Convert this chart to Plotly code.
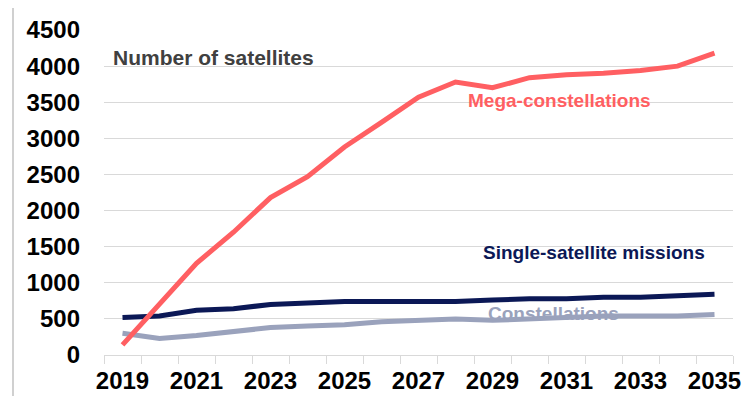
import plotly.graph_objects as go

years = list(range(2019, 2036))
mega = [140, 700, 1270, 1700, 2180, 2470, 2880, 3220, 3570, 3780, 3700, 3840, 3880, 3900, 3940, 4000, 4180]
single = [520, 540, 620, 640, 700, 720, 740, 740, 740, 740, 760, 780, 780, 800, 800, 820, 840]
constellations = [300, 230, 270, 330, 380, 400, 420, 460, 480, 500, 480, 500, 520, 540, 540, 540, 560]

label_years = list(range(2019, 2036, 2))
y_ticks = list(range(0, 5000, 500))

RED = '#FF5F62'
NAVY = '#0B1856'
GREY = '#9AA2BC'
FONT = 'Arial, Liberation Sans, sans-serif'

fig = go.Figure()

fig.add_trace(go.Scatter(x=years, y=constellations, mode='lines',
                         line=dict(color=GREY, width=5), name='Constellations'))
fig.add_trace(go.Scatter(x=years, y=single, mode='lines',
                         line=dict(color=NAVY, width=5), name='Single-satellite missions'))
fig.add_trace(go.Scatter(x=years, y=mega, mode='lines',
                         line=dict(color=RED, width=5), name='Mega-constellations'))

# the page body keeps its default 8px margin, so the figure is 8px smaller
fig.update_layout(
    width=747,
    height=388,
    margin=dict(l=96, r=22, t=22, b=41),
    plot_bgcolor='white',
    paper_bgcolor='white',
    showlegend=False,
    font=dict(family=FONT, color='black'),
)

fig.update_xaxes(
    range=[2018.5, 2035.5],
    automargin=False,
    tickvals=label_years,
    ticktext=[str(y) for y in label_years],
    ticks='',
    showgrid=False,
    showline=True,
    linecolor='#D9D9D9',
    linewidth=1,
    ticklabelstandoff=4,
    tickfont=dict(size=24, family=FONT, color='black', weight='bold'),
    minor=dict(tick0=2018.5, dtick=1, ticks='outside', ticklen=8,
               tickcolor='#D9D9D9', tickwidth=1, showgrid=False),
    zeroline=False,
)

fig.update_yaxes(
    range=[0, 4500],
    automargin=False,
    tickvals=y_ticks,
    showgrid=True,
    gridcolor='#D9D9D9',
    gridwidth=1,
    zeroline=False,
    showline=False,
    ticklabelstandoff=23,
    tickfont=dict(size=24, family=FONT, color='black', weight='bold'),
)

fig.add_annotation(text='Number of satellites', xref='paper', yref='paper',
                   x=0.011, y=0.914, xanchor='left', yanchor='middle', showarrow=False,
                   font=dict(size=21, family=FONT, color='#404040', weight='bold'))
fig.add_annotation(text='Mega-constellations', xref='x', yref='y',
                   x=2030.82, y=3520, xanchor='center', yanchor='middle', showarrow=False,
                   font=dict(size=19, family=FONT, color=RED, weight='bold'))
fig.add_annotation(text='Single-satellite missions', xref='x', yref='y',
                   x=2031.73, y=1417, xanchor='center', yanchor='middle', showarrow=False,
                   font=dict(size=19, family=FONT, color=NAVY, weight='bold'))
fig.add_annotation(text='Constellations', xref='x', yref='y',
                   x=2030.64, y=568, xanchor='center', yanchor='middle', showarrow=False,
                   font=dict(size=19, family=FONT, color=GREY, weight='bold'))

# thin border line on the left edge of the picture
fig.add_shape(type='line', xref='paper', yref='paper',
              x0=-91 / 629, x1=-91 / 629, y0=-41 / 325, y1=1 + 22 / 325,
              line=dict(color='#D0D0D0', width=2))

fig.write_html('out.html')
